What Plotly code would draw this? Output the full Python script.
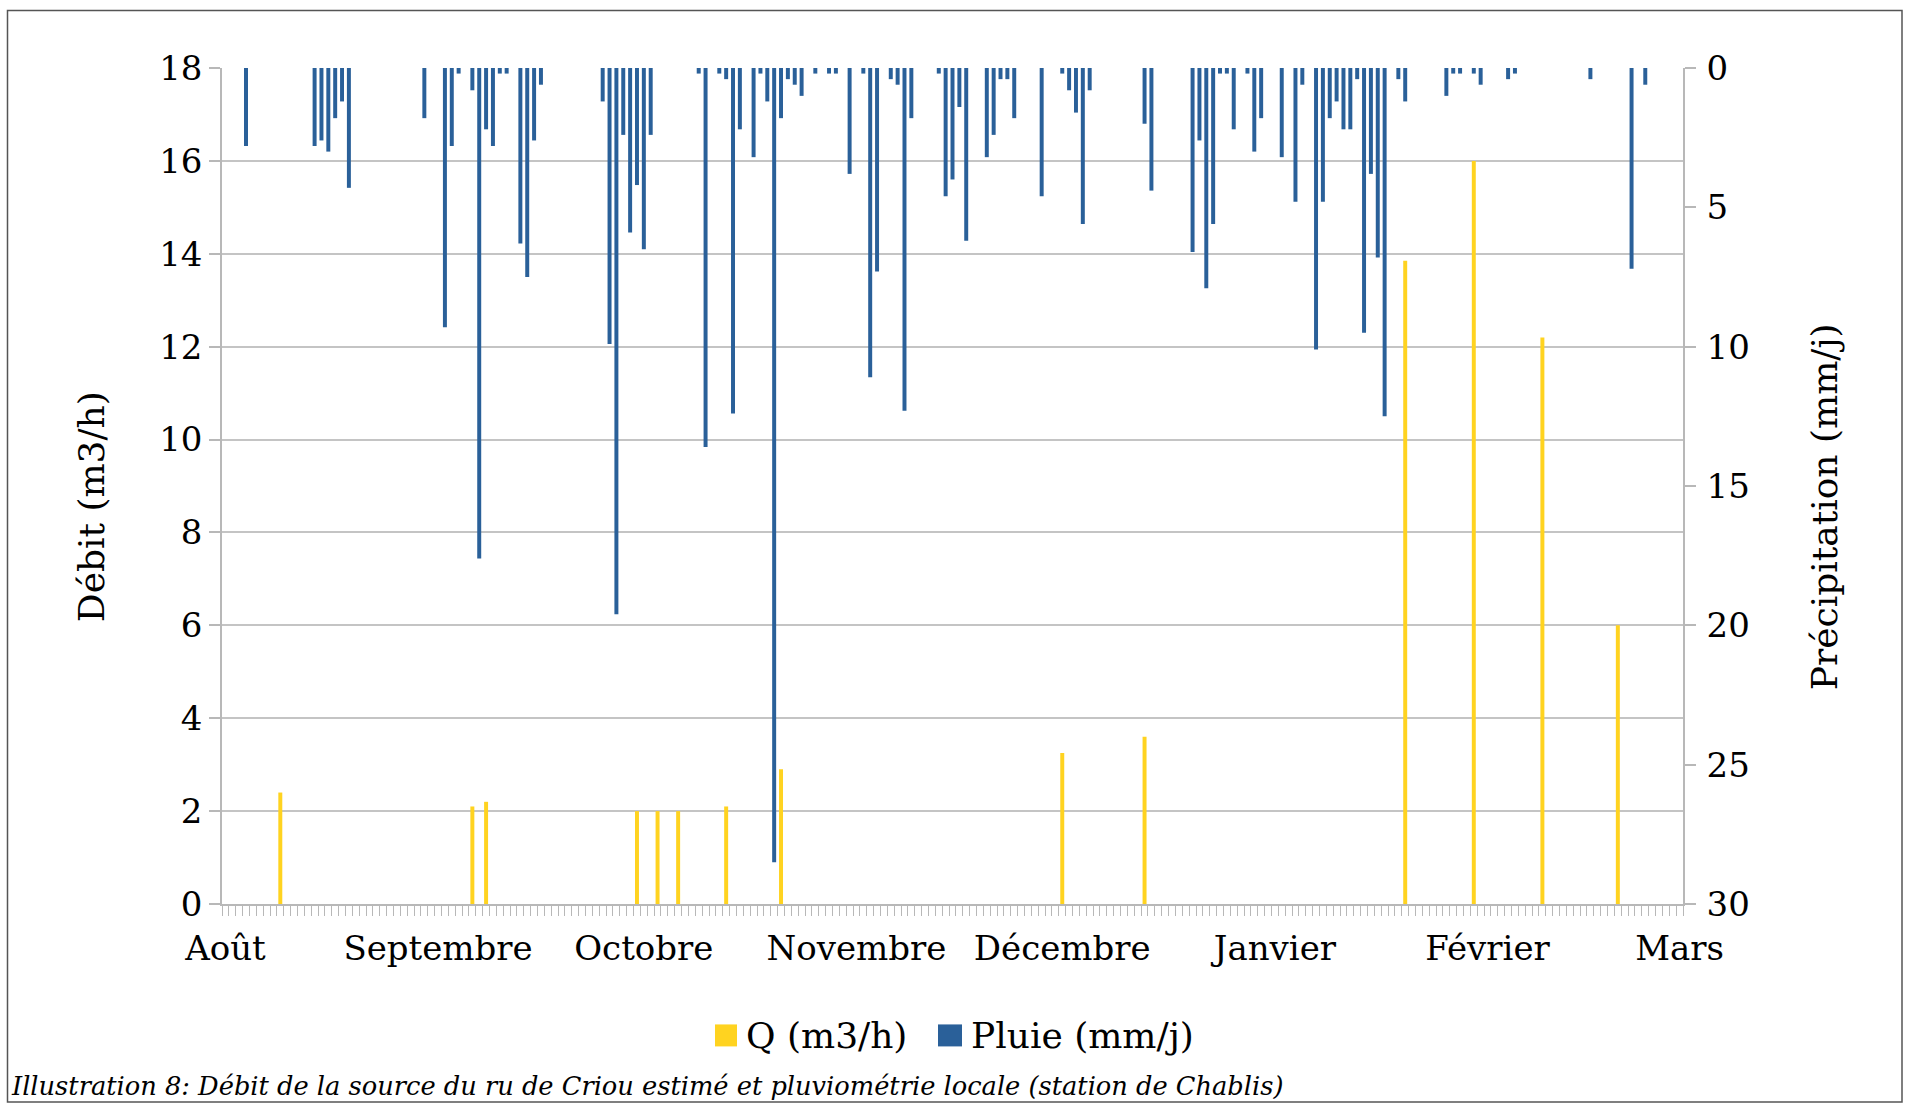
import plotly.graph_objects as go

# ---------------- data ----------------
# day index: 0 = 1 Août ... 212 = 1 Mars
month_labels = ["Août", "Septembre", "Octobre", "Novembre", "Décembre", "Janvier", "Février", "Mars"]
month_start = [0, 31, 61, 92, 122, 153, 184, 212]

q_days = [8, 36, 38, 60, 63, 66, 73, 81, 122, 134, 172, 182, 192, 203]
q_vals = [2.4, 2.1, 2.2, 2.0, 2.0, 2.0, 2.1, 2.9, 3.25, 3.6, 13.85, 16.0, 12.2, 6.0]

rain_days = [3, 13, 14, 15, 16, 17, 18, 29, 32, 33, 34, 36, 37, 38, 39, 40, 41, 43, 44, 45, 46,
             55, 56, 57, 58, 59, 60, 61, 62, 69, 70, 72, 73, 74, 75, 77, 78, 79, 80, 81, 82, 83, 84,
             86, 88, 89, 91, 93, 94, 95, 97, 98, 99, 100, 104, 105, 106, 107, 108, 111, 112, 113,
             114, 115, 119, 122, 123, 124, 125, 126, 134, 135, 141, 142, 143, 144, 145, 146, 147,
             149, 150, 151, 154, 156, 157, 159, 160, 161, 162, 163, 164, 165, 166, 167, 168, 169,
             171, 172, 178, 179, 180, 182, 183, 187, 188, 199, 205, 207]
rain_vals = [2.8, 2.8, 2.6, 3.0, 1.8, 1.2, 4.3, 1.8, 9.3, 2.8, 0.2, 0.8, 17.6, 2.2, 2.8, 0.2, 0.2, 6.3, 7.5, 2.6, 0.6,
             1.2, 9.9, 19.6, 2.4, 5.9, 4.2, 6.5, 2.4, 0.2, 13.6, 0.2, 0.4, 12.4, 2.2, 3.2, 0.2, 1.2, 28.5, 1.8, 0.4, 0.6, 1.0,
             0.2, 0.2, 0.2, 3.8, 0.2, 11.1, 7.3, 0.4, 0.6, 12.3, 1.8, 0.2, 4.6, 4.0, 1.4, 6.2, 3.2, 2.4, 0.4,
             0.4, 1.8, 4.6, 0.2, 0.8, 1.6, 5.6, 0.8, 2.0, 4.4, 6.6, 2.6, 7.9, 5.6, 0.2, 0.2, 2.2,
             0.2, 3.0, 1.8, 3.2, 4.8, 0.6, 10.1, 4.8, 1.8, 1.2, 2.2, 2.2, 0.4, 9.5, 3.8, 6.8, 12.5,
             0.4, 1.2, 1.0, 0.2, 0.2, 0.2, 0.6, 0.4, 0.2, 0.4, 7.2, 0.6]

q_name = "Q (m3/h)"
rain_name = "Pluie (mm/j)"
caption = "Illustration 8: Débit de la source du ru de Criou estimé et pluviométrie locale (station de Chablis)"

# ---------------- layout geometry (pixels) ----------------
W, H = 1910, 1105
PL, PR, PT, PB = 222, 1683, 67.5, 904   # plot area edges

def px(x):
    return (x - PL) / (PR - PL)

def py(y):
    return (PB - y) / (PB - PT)

FONT = "DejaVu Serif"
GRID = "#c4c4c4"
AX = "#b8b8b8"
YELLOW = "#FFD320"
BLUE = "#2A6099"

fig = go.Figure()
fig.add_trace(go.Bar(x=q_days, y=q_vals, name=q_name, marker_color=YELLOW,
                     marker_line_width=0, width=0.58, yaxis="y", showlegend=False))
fig.add_trace(go.Bar(x=rain_days, y=rain_vals, name=rain_name, marker_color=BLUE,
                     marker_line_width=0, width=0.58, yaxis="y2", showlegend=False))

fig.update_layout(
    width=W, height=H,
    margin=dict(l=PL, r=W - PR, t=PT, b=H - PB, pad=0),
    paper_bgcolor="white", plot_bgcolor="white",
    font=dict(family=FONT, size=34, color="black"),
    barmode="overlay",
    showlegend=False,
    xaxis=dict(range=[-0.5, 212.5], tickmode="array", tickvals=month_start, ticktext=month_labels,
               ticks="", showgrid=False, zeroline=False, showline=True, linecolor=AX, linewidth=1.5,
               tickfont=dict(size=34), ticklabelstandoff=13,
               minor=dict(ticks="outside", tickmode="linear", tick0=-0.5, dtick=1, ticklen=10,
                          tickcolor=AX, tickwidth=1.2, showgrid=False)),
    yaxis=dict(range=[0, 18], dtick=2, showgrid=True, gridcolor=GRID, gridwidth=1.5,
               zeroline=False, showline=True, linecolor=AX, linewidth=1.5,
               ticks="outside", ticklen=11, tickcolor=AX, tickwidth=1.5, tickfont=dict(size=34)),
    yaxis2=dict(range=[30, 0], dtick=5, overlaying="y", side="right", showgrid=False,
                zeroline=False, showline=True, linecolor=AX, linewidth=1.5,
                ticks="outside", ticklen=11, tickcolor=AX, tickwidth=1.5, tickfont=dict(size=34),
                ticklabelstandoff=4),
)

# axis titles
fig.add_annotation(text="Débit (m3/h)", textangle=-90, xref="paper", yref="paper",
                   x=px(91), y=py(507), xanchor="center", yanchor="middle",
                   showarrow=False, font=dict(size=36))
fig.add_annotation(text="Précipitation (mm/j)", textangle=-90, xref="paper", yref="paper",
                   x=px(1824), y=py(507), xanchor="center", yanchor="middle",
                   showarrow=False, font=dict(size=36))

# legend (large square keys as in the reference)
fig.add_shape(type="rect", xref="paper", yref="paper",
              x0=px(715), x1=px(737), y0=py(1046.5), y1=py(1024.5),
              line=dict(width=0), fillcolor=YELLOW)
fig.add_annotation(text=q_name, xref="paper", yref="paper", x=px(744), y=py(1035.5),
                   xanchor="left", yanchor="middle", showarrow=False, font=dict(size=36))
fig.add_shape(type="rect", xref="paper", yref="paper",
              x0=px(938), x1=px(962), y0=py(1046.5), y1=py(1024.5),
              line=dict(width=0), fillcolor=BLUE)
fig.add_annotation(text=rain_name, xref="paper", yref="paper", x=px(969), y=py(1035.5),
                   xanchor="left", yanchor="middle", showarrow=False, font=dict(size=36))

# caption
fig.add_annotation(text="<i>" + caption + "</i>", xref="paper", yref="paper",
                   x=px(9), y=py(1086), xanchor="left", yanchor="middle",
                   showarrow=False, font=dict(size=25.7))

# frame
fig.add_shape(type="rect", xref="paper", yref="paper",
              x0=px(7.5), x1=px(1902), y0=py(1102), y1=py(10),
              line=dict(color="#555555", width=1.5), fillcolor="rgba(0,0,0,0)", layer="below")

fig.write_html("out.html", config={"displayModeBar": False},
               post_script="document.body.style.margin='0px';")
